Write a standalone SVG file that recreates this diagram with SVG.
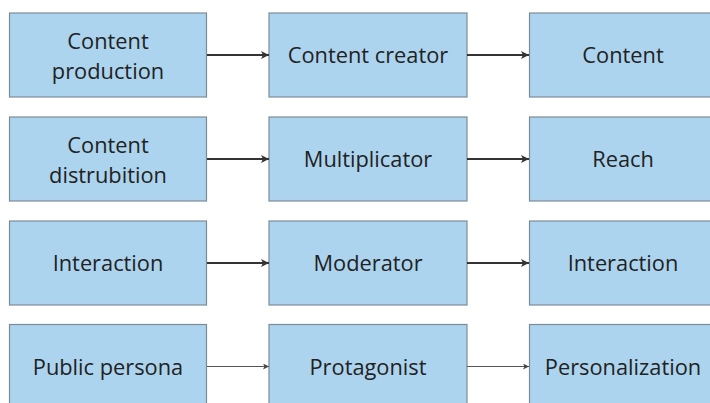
<svg xmlns="http://www.w3.org/2000/svg" width="710" height="403" viewBox="0 0 710 403">
  <defs>
    <marker id="head" markerWidth="10" markerHeight="10" refX="8" refY="4" orient="auto" markerUnits="userSpaceOnUse">
      <path d="M0,0 L8,4 L0,8 L2,4 Z" fill="#333333"/>
    </marker>
    <marker id="headSmall" markerWidth="8" markerHeight="8" refX="6" refY="3" orient="auto" markerUnits="userSpaceOnUse">
      <path d="M0,0 L6,3 L0,6 L1.5,3 Z" fill="#444444"/>
    </marker>
    <style>
      .box { fill: #acd4ee; stroke: #7d8b98; stroke-width: 1.2; }
      .label { font-family: "Open Sans", "Noto Sans", "DejaVu Sans", sans-serif; font-size: 21.8px; fill: #222222; text-anchor: middle; }
      .link { stroke: #333333; stroke-width: 1.8; fill: none; marker-end: url(#head); }
      .link-thin { stroke: #555555; stroke-width: 1.1; fill: none; marker-end: url(#headSmall); }
    </style>
  </defs>

  <!-- Row 1 -->
  <g id="content-production">
    <rect class="box" x="9.5" y="13" width="197" height="84"/>
    <text class="label" x="108" y="49">Content</text>
    <text class="label" x="108" y="79">production</text>
  </g>
  <g id="content-creator">
    <rect class="box" x="269" y="13" width="198" height="84"/>
    <text class="label" x="368" y="63.3">Content creator</text>
  </g>
  <g id="content">
    <rect class="box" x="529.5" y="13" width="200" height="84"/>
    <text class="label" x="623" y="63.3">Content</text>
  </g>

  <!-- Row 2 -->
  <g id="content-distrubition">
    <rect class="box" x="9.5" y="117" width="197" height="84"/>
    <text class="label" x="108" y="153">Content</text>
    <text class="label" x="108" y="183">distrubition</text>
  </g>
  <g id="multiplicator">
    <rect class="box" x="269" y="117" width="198" height="84"/>
    <text class="label" x="368" y="167.3">Multiplicator</text>
  </g>
  <g id="reach">
    <rect class="box" x="529.5" y="117" width="200" height="84"/>
    <text class="label" x="623" y="167.3">Reach</text>
  </g>

  <!-- Row 3 -->
  <g id="interaction-in">
    <rect class="box" x="9.5" y="221" width="197" height="84"/>
    <text class="label" x="108" y="271.3">Interaction</text>
  </g>
  <g id="moderator">
    <rect class="box" x="269" y="221" width="198" height="84"/>
    <text class="label" x="368" y="271.3">Moderator</text>
  </g>
  <g id="interaction-out">
    <rect class="box" x="529.5" y="221" width="200" height="84"/>
    <text class="label" x="623" y="271.3">Interaction</text>
  </g>

  <!-- Row 4 -->
  <g id="public-persona">
    <rect class="box" x="9.5" y="324.5" width="197" height="84"/>
    <text class="label" x="108" y="375">Public persona</text>
  </g>
  <g id="protagonist">
    <rect class="box" x="269" y="324.5" width="198" height="84"/>
    <text class="label" x="368" y="375">Protagonist</text>
  </g>
  <g id="personalization">
    <rect class="box" x="529.5" y="324.5" width="200" height="84"/>
    <text class="label" x="623" y="375">Personalization</text>
  </g>

  <!-- Connectors -->
  <g id="connectors">
    <line class="link" x1="207" y1="55" x2="269" y2="55"/>
    <line class="link" x1="467" y1="55" x2="529" y2="55"/>
    <line class="link" x1="207" y1="159" x2="269" y2="159"/>
    <line class="link" x1="467" y1="159" x2="529" y2="159"/>
    <line class="link" x1="207" y1="263" x2="269" y2="263"/>
    <line class="link" x1="467" y1="263" x2="529" y2="263"/>
    <line class="link-thin" x1="207" y1="366.5" x2="269" y2="366.5"/>
    <line class="link-thin" x1="467" y1="366.5" x2="529" y2="366.5"/>
  </g>
</svg>
